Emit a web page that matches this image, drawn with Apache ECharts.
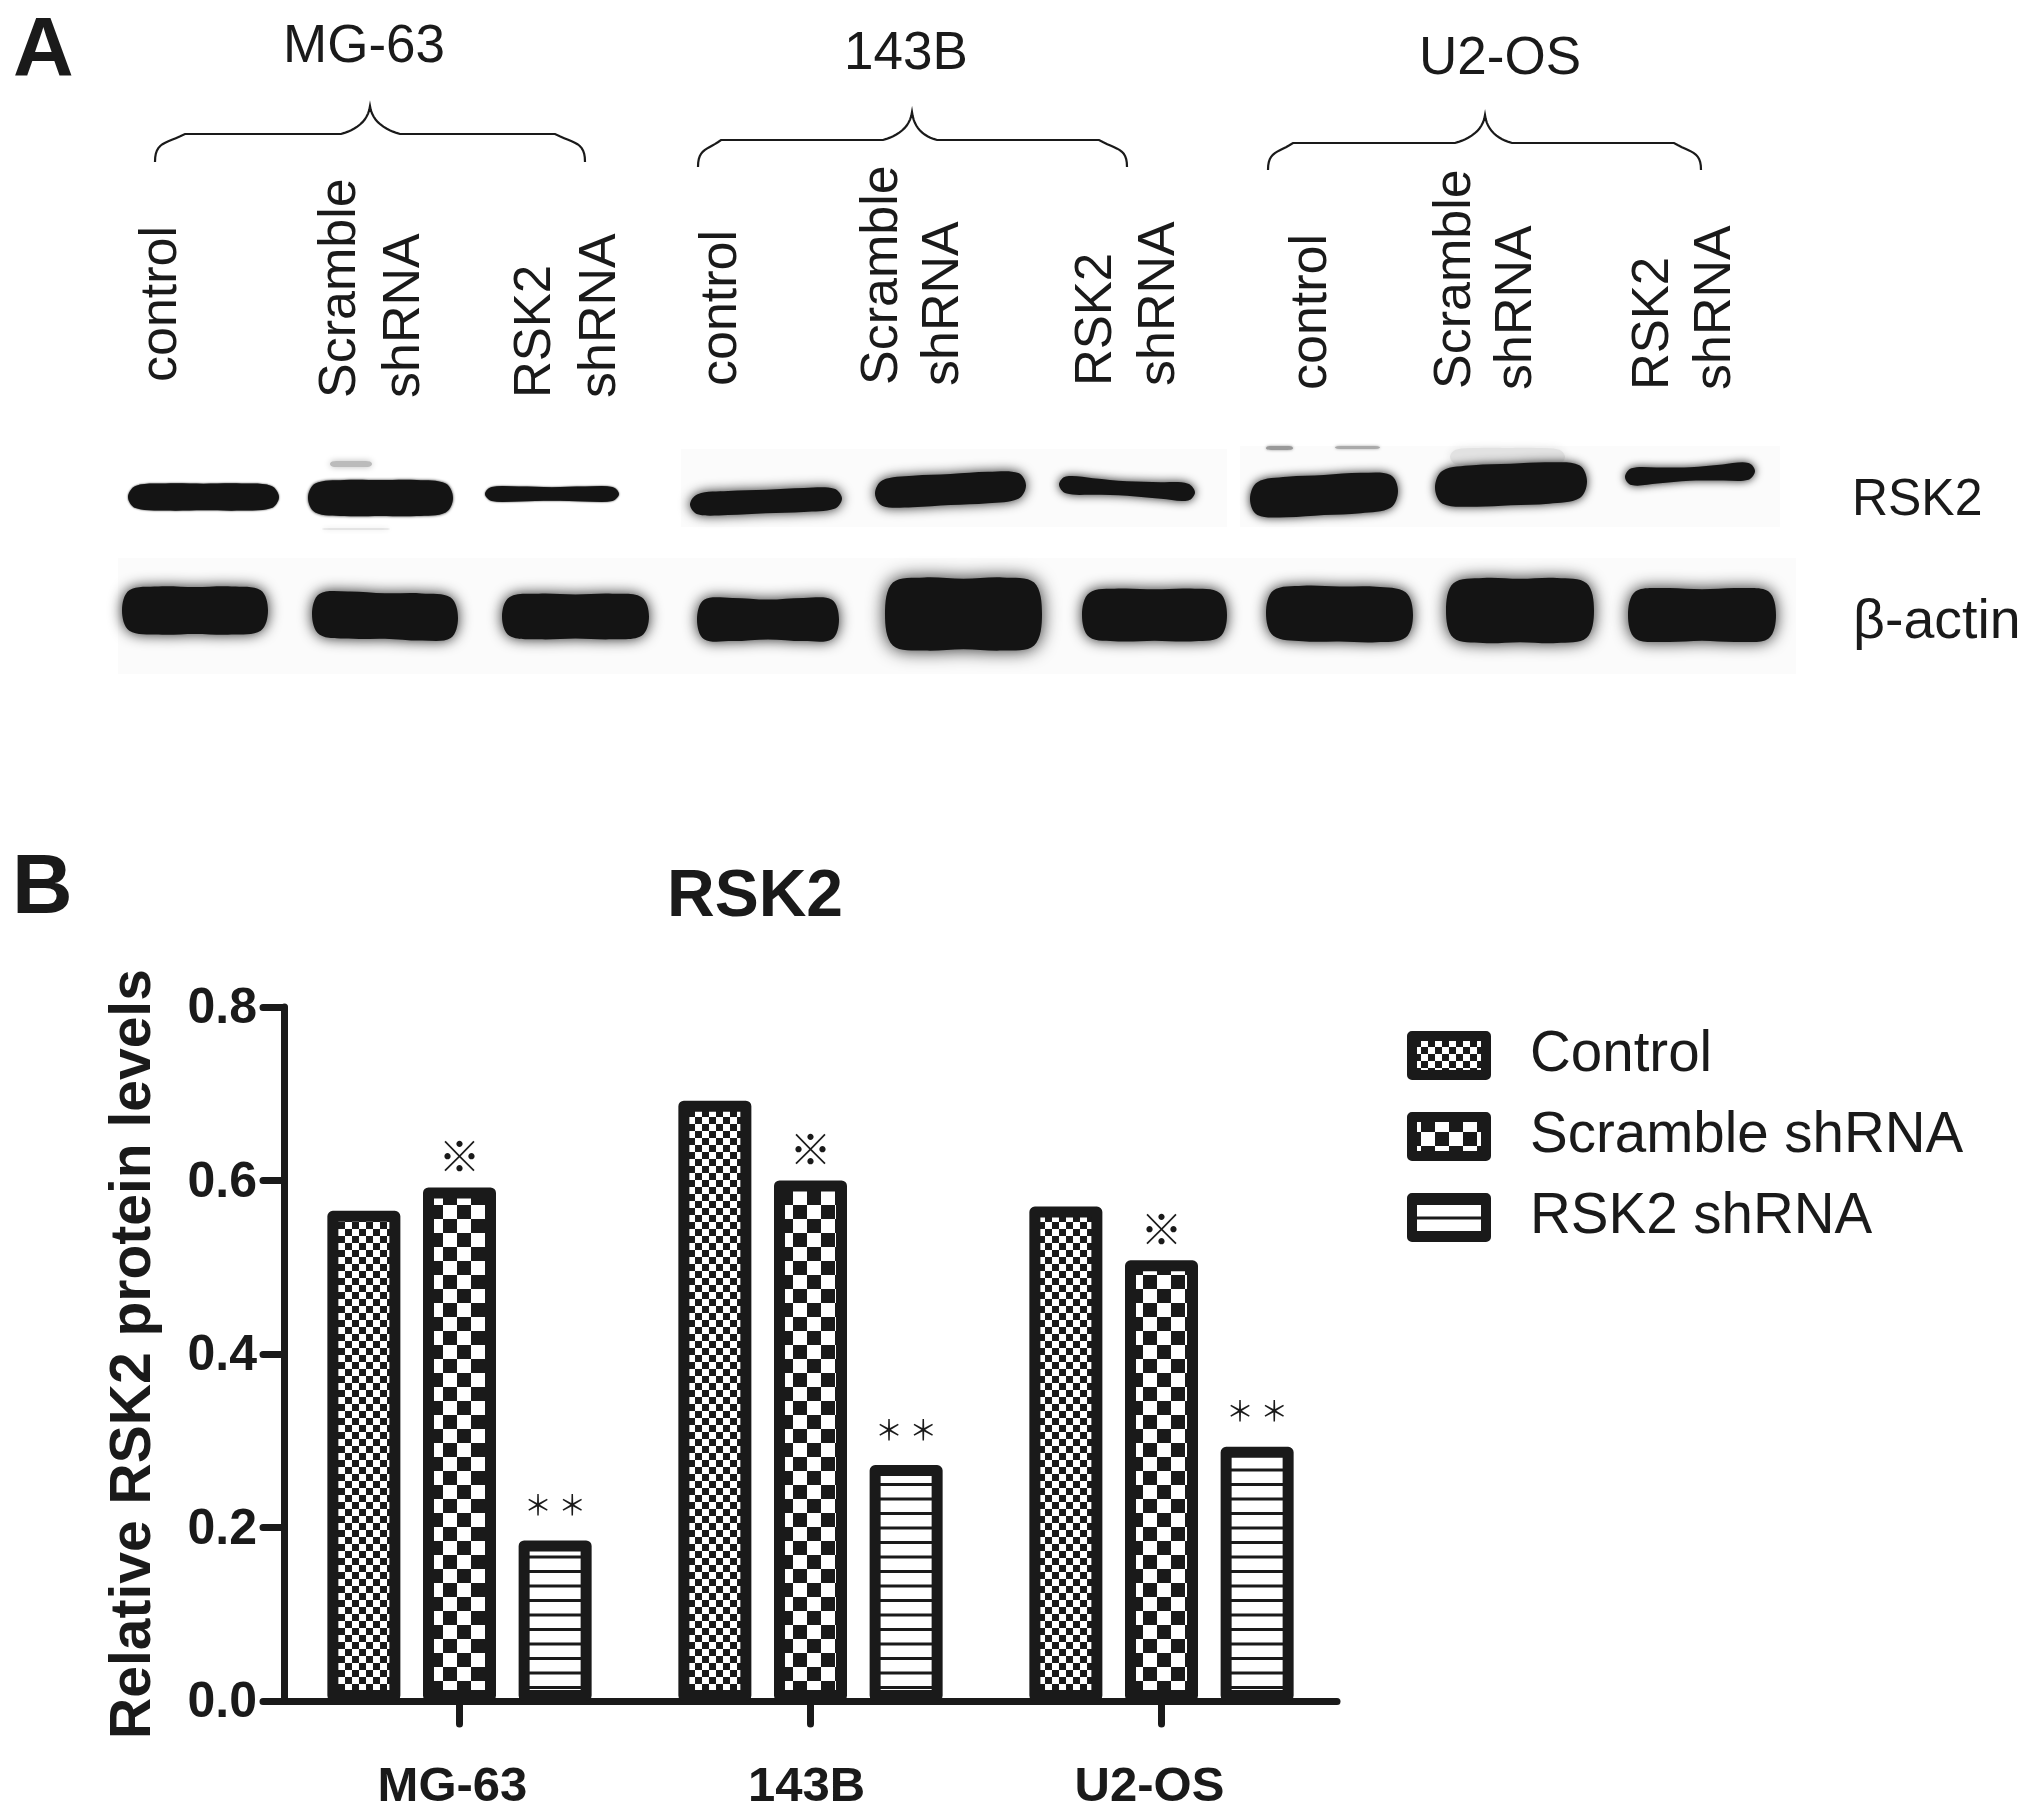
<!DOCTYPE html>
<html>
<head>
<meta charset="utf-8">
<title>RSK2</title>
<script src="https://cdn.jsdelivr.net/npm/echarts@6/dist/echarts.min.js"></script>
<style>
  * { margin: 0; padding: 0; }
  body { background: #fff; }
</style>
</head>
<body>
<div id="main" style="width: 2031px;height: 1817px;"></div>
<script>
// values (panel B)
var categories = ['MG-63', '143B', 'U2-OS'];
var seriesNames = ['Control', 'Scramble shRNA', 'RSK2 shRNA'];
var controlValues = [0.565, 0.692, 0.570];
var scrambleValues = [0.592, 0.600, 0.508];
var rsk2Values = [0.185, 0.272, 0.293];
var yTicks = [0, 0.2, 0.4, 0.6, 0.8];
var scrambleMark = '※';
var rsk2Mark = '＊ ＊';

var ink = '#1a1a1a';
var sans = '"Liberation Sans", Arial, sans-serif';
var cjk = '"Noto Sans CJK SC", sans-serif';

function checker(cell, ox, oy) {
  var c = document.createElement('canvas');
  c.width = c.height = cell * 2;
  var g = c.getContext('2d');
  g.fillStyle = '#fff';
  g.fillRect(0, 0, cell * 2, cell * 2);
  g.fillStyle = ink;
  for (var i = -2; i < 3; i++) {
    for (var j = -2; j < 3; j++) {
      if ((i + j) % 2 === 0) g.fillRect(ox + i * cell, oy + j * cell, cell, cell);
    }
  }
  return c;
}

function stripes() {
  var c = document.createElement('canvas');
  c.width = 4;
  c.height = 29;
  var g = c.getContext('2d');
  g.fillStyle = '#fff';
  g.fillRect(0, 0, 4, 29);
  g.fillStyle = ink;
  g.fillRect(0, 4, 4, 3);
  g.fillRect(0, 18.5, 4, 3);
  return c;
}

var fills = [
  { image: checker(7, 2, 4), repeat: 'repeat' },
  { image: checker(14, 23, 15), repeat: 'repeat' },
  { image: stripes(), repeat: 'repeat' }
];

// text with its baseline at (x, y); rotated text reads bottom to top
function label(text, x, y, size, opt) {
  opt = opt || {};
  return {
    type: 'text',
    silent: true,
    x: opt.up ? x - size * 0.31 : x,
    y: opt.up ? y + 3 : y - size * 0.28,
    rotation: opt.up ? Math.PI / 2 : 0,
    scaleX: opt.scaleX || 1,
    style: {
      text: text,
      fill: ink,
      font: (opt.bold ? 'bold ' : '') + size + 'px ' + sans,
      align: opt.align || 'left',
      verticalAlign: 'middle'
    }
  };
}

function curve(pts, a, b, c, d) {
  for (var i = 1; i <= 12; i++) {
    var t = i / 12, u = 1 - t;
    pts.push([
      u * u * u * a[0] + 3 * u * u * t * b[0] + 3 * u * t * t * c[0] + t * t * t * d[0],
      u * u * u * a[1] + 3 * u * u * t * b[1] + 3 * u * t * t * c[1] + t * t * t * d[1]
    ]);
  }
}

function brace(xl, xa, xb, xm, xc, xd, xr, yEnd, yFlat, yTop) {
  var pts = [[xl, yEnd]];
  curve(pts, [xl, yEnd], [xl, yFlat + 8], [xl + 10, yFlat + 10], [xa, yFlat]);
  pts.push([xb, yFlat]);
  curve(pts, [xb, yFlat], [xb + 14, yFlat - 4], [xm - 2, yFlat - 12], [xm, yTop]);
  curve(pts, [xm, yTop], [xm + 2, yFlat - 12], [xc - 14, yFlat - 4], [xc, yFlat]);
  pts.push([xd, yFlat]);
  curve(pts, [xd, yFlat], [xr - 10, yFlat + 10], [xr, yFlat + 8], [xr, yEnd]);
  return {
    type: 'polyline',
    silent: true,
    shape: { points: pts },
    style: { fill: null, stroke: ink, lineWidth: 2.2 }
  };
}

// one blot band: box x0..x1, y0..y1, rise = drop from left to right, pinch = waist
function band(x0, x1, y0, y1, rise, pinch, blur, color) {
  var mid = (y0 + y1) / 2;
  var half = (y1 - y0 - Math.abs(rise) * 0.6) / 2;
  var w = x1 - x0;
  var ts = [0.05, 0.25, 0.5, 0.75, 0.95];
  var edge = [0.8, 1, 1, 1, 0.8];
  var pts = [[x0, mid - rise / 2]];
  ts.forEach(function (t, i) {
    var h = half * (1 - pinch * Math.sin(Math.PI * t)) * edge[i];
    pts.push([x0 + w * t, mid + rise * (t - 0.5) - h]);
  });
  pts.push([x1, mid + rise / 2]);
  for (var i = ts.length - 1; i >= 0; i--) {
    var h = half * (1 - pinch * Math.sin(Math.PI * ts[i])) * edge[i];
    pts.push([x0 + w * ts[i], mid + rise * (ts[i] - 0.5) + h]);
  }
  return {
    type: 'polygon',
    silent: true,
    shape: { points: pts, smooth: 0.35 },
    style: { fill: color || '#141414', shadowBlur: blur, shadowColor: color || '#222' }
  };
}

function panel(x, y, w, h) {
  return {
    type: 'rect',
    silent: true,
    shape: { x: x, y: y, width: w, height: h },
    style: { fill: '#fbfbfb' }
  };
}

var artwork = [
  panel(118, 558, 1678, 116),
  panel(681, 449, 546, 78),
  panel(1240, 446, 540, 81),

  // RSK2 row
  band(330, 372, 461, 467, 0, 0, 6, '#bbbbbb'),
  band(322, 390, 528, 530, 0, 0, 5, '#e4e4e4'),
  band(128, 279, 483, 511, 0, 0.05, 2),
  band(308, 453, 480, 516, 0, 0, 3),
  band(485, 619, 485, 503, 0, 0.25, 2),
  band(690, 842, 487, 516, -6, 0.08, 12),
  band(875, 1026, 471, 508, -8, 0.04, 12),
  band(1059, 1195, 475, 502, 8, 0.35, 10),
  band(1266, 1293, 446, 450, 0, 0, 3, '#999999'),
  band(1335, 1380, 446, 449, 0, 0, 3, '#aaaaaa'),
  band(1450, 1565, 448, 466, 0, 0, 9, '#e2e2e2'),
  band(1250, 1398, 472, 518, -8, 0.03, 10),
  band(1435, 1587, 462, 507, -6, 0, 10),
  band(1625, 1755, 461, 487, -6, 0.4, 8),

  // beta-actin row
  band(122, 268, 585, 636, 0, 0.08, 14),
  band(312, 458, 589, 643, 4, 0.12, 14),
  band(502, 649, 592, 641, 0, 0.1, 14),
  band(697, 839, 594, 645, 0, 0.22, 14),
  band(885, 1042, 574, 654, 0, 0.12, 18),
  band(1082, 1227, 587, 643, 0, 0.08, 14),
  band(1266, 1413, 585, 643, 2, 0.03, 14),
  band(1446, 1594, 576, 645, 0, 0.08, 16),
  band(1628, 1776, 585, 645, 0, 0.14, 16),

  // braces
  brace(155, 185, 341, 370, 400, 555, 585, 162, 134, 106),
  brace(698, 721, 883, 912, 937, 1099, 1127, 167, 140, 112),
  brace(1268, 1293, 1455, 1485, 1512, 1674, 1701, 170, 143, 115),

  // panel letters and cell lines
  label('A', 13, 76, 84, { bold: true }),
  label('B', 12, 913, 84, { bold: true }),
  label('MG-63', 364, 62, 53, { align: 'center' }),
  label('143B', 906, 69, 53, { align: 'center' }),
  label('U2-OS', 1500, 74, 53, { align: 'center' }),
  label('RSK2', 1852, 515, 52, { scaleX: 0.96 }),
  label('β-actin', 1853, 638, 55.5),

  // lane labels
  label('control', 178, 379, 52, { up: true }),
  label('Scramble', 357, 395, 52, { up: true }),
  label('shRNA', 421, 395, 52, { up: true }),
  label('RSK2', 552, 395, 51, { up: true }),
  label('shRNA', 617, 395, 52, { up: true }),
  label('control', 738, 383, 52, { up: true }),
  label('Scramble', 899, 382, 52, { up: true }),
  label('shRNA', 960, 383, 52, { up: true }),
  label('RSK2', 1113, 383, 51, { up: true }),
  label('shRNA', 1176, 383, 52, { up: true }),
  label('control', 1328, 387, 52, { up: true }),
  label('Scramble', 1472, 386, 52, { up: true }),
  label('shRNA', 1533, 387, 52, { up: true }),
  label('RSK2', 1670, 387, 51, { up: true }),
  label('shRNA', 1732, 387, 52, { up: true })
];

// the printed category labels sit a little left of their ticks
var labelShift = [14, 8, 24];
var labelRich = {};
categories.forEach(function (c, i) {
  labelRich['c' + i] = {
    fontFamily: sans, fontWeight: 'bold', fontSize: 49, color: ink,
    padding: [0, labelShift[i], 0, 0]
  };
});

function barSeries(i, values, mark) {
  return {
    name: seriesNames[i],
    type: 'bar',
    data: values,
    barWidth: 73,
    barGap: '31%',
    itemStyle: { color: fills[i], borderColor: ink, borderWidth: 11, borderJoin: 'round' },
    label: {
      show: !!mark,
      position: 'top',
      distance: mark === scrambleMark ? 10 : 21,
      formatter: mark || '',
      fontFamily: cjk,
      fontSize: mark === scrambleMark ? 42 : 28,
      color: ink
    }
  };
}

var chart = echarts.init(document.getElementById('main'));
chart.setOption({
  animation: false,
  backgroundColor: '#fff',
  title: {
    text: 'RSK2',
    left: 662,
    top: 860,
    textStyle: { fontFamily: sans, fontWeight: 'bold', fontSize: 66, color: ink }
  },
  legend: {
    orient: 'vertical',
    left: 1402,
    top: 1019,
    data: seriesNames,
    itemWidth: 74,
    itemHeight: 39,
    itemGap: 18,
    icon: 'rect',
    itemStyle: { borderColor: ink, borderWidth: 10, borderJoin: 'round' },
    textStyle: { fontFamily: sans, fontSize: 56.5, color: ink, lineHeight: 56, padding: [7, 0, 0, 39] }
  },
  grid: { left: 284, top: 1007, width: 1053, height: 694 },
  xAxis: {
    type: 'category',
    data: categories,
    axisLine: { lineStyle: { color: ink, width: 7, cap: 'round' } },
    axisTick: { show: true, alignWithLabel: true, length: 23, lineStyle: { color: ink, width: 7, cap: 'round' } },
    axisLabel: {
      margin: 62,
      formatter: function (v, i) { return '{c' + i + '|' + v + '}'; },
      rich: labelRich
    }
  },
  yAxis: {
    type: 'value',
    min: yTicks[0],
    max: yTicks[yTicks.length - 1],
    interval: yTicks[1],
    name: 'Relative RSK2 protein levels',
    nameLocation: 'middle',
    nameGap: 121,
    nameTextStyle: { fontFamily: sans, fontWeight: 'bold', fontSize: 57, color: ink },
    splitLine: { show: false },
    axisLine: { show: true, lineStyle: { color: ink, width: 7, cap: 'round' } },
    axisTick: { show: true, length: 21, lineStyle: { color: ink, width: 7, cap: 'round' } },
    axisLabel: {
      margin: 27,
      formatter: function (v) { return '{n|' + v.toFixed(1) + '}'; },
      rich: {
        n: { fontFamily: sans, fontWeight: 'bold', fontSize: 50, color: ink, padding: [5, 0, 0, 0] }
      }
    }
  },
  series: [
    barSeries(0, controlValues, null),
    barSeries(1, scrambleValues, scrambleMark),
    barSeries(2, rsk2Values, rsk2Mark)
  ],
  graphic: { elements: artwork }
});
</script>
</body>
</html>
